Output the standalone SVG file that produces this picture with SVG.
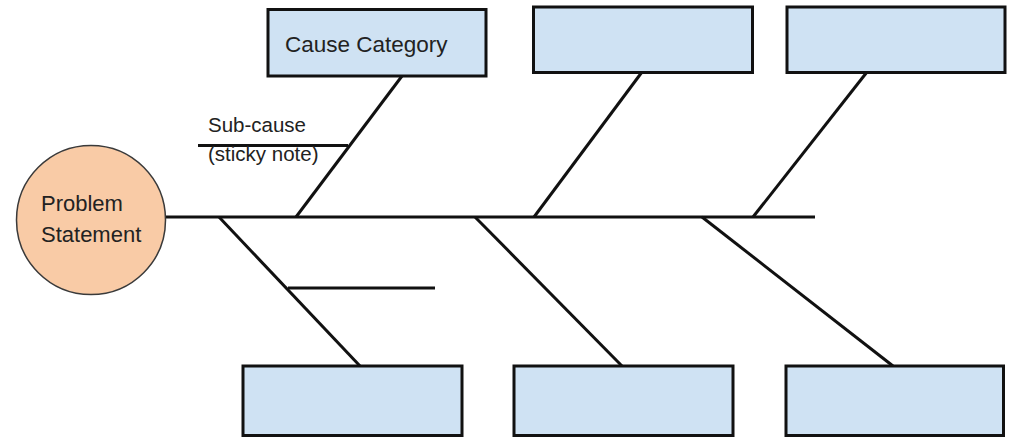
<svg xmlns="http://www.w3.org/2000/svg" width="1013" height="441" viewBox="0 0 1013 441">
  <style>
    .box { fill: #cfe2f3; stroke: #111; stroke-width: 3; }
    .bone { stroke: #111; stroke-width: 3; fill: none; stroke-linecap: butt; }
    .lbl { font-family: "Liberation Sans", Arial, sans-serif; fill: #222; }
    .note { font-family: "Liberation Sans", Arial, sans-serif; fill: #222; font-size: 20.5px; }
  </style>
  <rect width="1013" height="441" fill="#ffffff"/>
  <g id="connectors">
    <line class="bone" x1="165" y1="217" x2="815" y2="217"/>
    <line class="bone" x1="402" y1="76" x2="296" y2="217"/>
    <line class="bone" x1="642" y1="72" x2="534" y2="217"/>
    <line class="bone" x1="867" y1="72" x2="753" y2="217"/>
    <line class="bone" x1="219" y1="217" x2="360" y2="366"/>
    <line class="bone" x1="475" y1="217" x2="622" y2="366"/>
    <line class="bone" x1="702" y1="217" x2="893" y2="366"/>
    <line class="bone" x1="198" y1="145.5" x2="348" y2="145.5"/>
    <line class="bone" x1="288" y1="288" x2="435" y2="288"/>
  </g>
  <g id="problem">
    <circle cx="91" cy="220" r="74.5" fill="#f9cba6" stroke="#3a3a3a" stroke-width="1.5"/>
    <text class="lbl" font-size="22" x="41" y="211">Problem</text>
    <text class="lbl" font-size="22" x="41" y="242">Statement</text>
  </g>
  <g id="cause-top-1">
    <rect class="box" x="268" y="9.5" width="218" height="66.5"/>
    <text class="lbl" font-size="22.5" x="285" y="52">Cause Category</text>
  </g>
  <g id="cause-top-2">
    <rect class="box" x="533.5" y="7" width="219" height="65.5"/>
  </g>
  <g id="cause-top-3">
    <rect class="box" x="787" y="7" width="218" height="65.5"/>
  </g>
  <g id="cause-bottom-1">
    <rect class="box" x="243" y="366" width="219" height="69.5"/>
  </g>
  <g id="cause-bottom-2">
    <rect class="box" x="514" y="366" width="219" height="69.5"/>
  </g>
  <g id="cause-bottom-3">
    <rect class="box" x="786" y="366" width="217.5" height="69.5"/>
  </g>
  <g id="sub-cause">
    <text class="note" x="208" y="132">Sub-cause</text>
    <text class="note" x="208" y="161">(sticky note)</text>
  </g>
</svg>
